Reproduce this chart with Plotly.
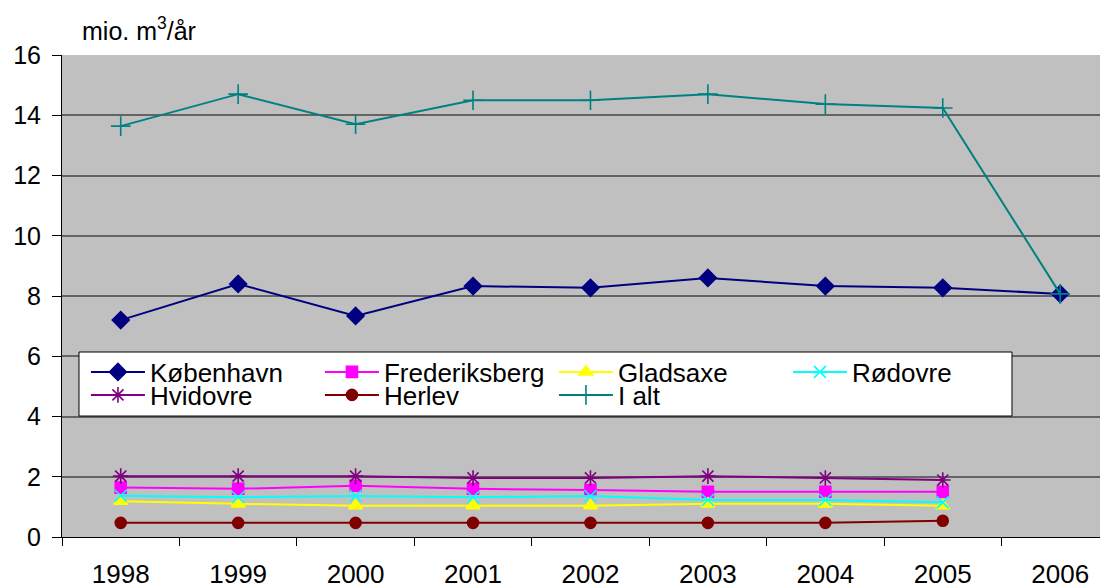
import plotly.graph_objects as go

years = ["1998", "1999", "2000", "2001", "2002", "2003", "2004", "2005", "2006"]
koebenhavn = [7.2, 8.4, 7.34, 8.33, 8.27, 8.6, 8.33, 8.27, 8.07]
frederiksberg = [1.64, 1.6, 1.7, 1.6, 1.56, 1.5, 1.5, 1.5]
gladsaxe = [1.19, 1.1, 1.04, 1.04, 1.04, 1.1, 1.1, 1.04]
roedovre = [1.37, 1.32, 1.36, 1.32, 1.36, 1.23, 1.23, 1.15]
hvidovre = [2.02, 2.02, 2.02, 1.96, 1.96, 2.02, 1.96, 1.89]
herlev = [0.47, 0.47, 0.47, 0.47, 0.47, 0.47, 0.47, 0.54]
i_alt = [13.64, 14.7, 13.7, 14.5, 14.5, 14.7, 14.37, 14.24, 8.07]

series = [
    ("København", koebenhavn, "#000080", "diamond", 13, "legend"),
    ("Frederiksberg", frederiksberg, "#FF00FF", "square", 11, "legend"),
    ("Gladsaxe", gladsaxe, "#FFFF00", "triangle-up", 12, "legend"),
    ("Rødovre", roedovre, "#00FFFF", "x-thin-open", 12, "legend"),
    ("Hvidovre", hvidovre, "#800080", "asterisk-open", 13, "legend2"),
    ("Herlev", herlev, "#800000", "circle", 11, "legend2"),
    ("I alt", i_alt, "#008080", "cross-thin-open", 14, "legend2"),
]

FONT = "Liberation Sans, Arial, sans-serif"

fig = go.Figure()
for name, vals, color, sym, size, leg in series:
    fig.add_trace(go.Scatter(
        x=years[:len(vals)], y=vals, name=name, mode="lines+markers",
        legend=leg,
        line=dict(color=color, width=2),
        marker=dict(symbol=sym, size=size, color=color,
                    line=dict(color=color, width=1.6)),
    ))

legend_common = dict(
    orientation="h", xref="paper", yref="paper",
    x=0.0229, xanchor="left", yanchor="middle",
    bgcolor="rgba(0,0,0,0)", borderwidth=0,
    entrywidth=165, entrywidthmode="pixels", itemwidth=54,
    font=dict(family=FONT, size=26, color="black"),
    traceorder="normal",
)

fig.update_layout(
    width=1100, height=580,
    margin=dict(l=54, r=0, t=47, b=51, autoexpand=False),
    paper_bgcolor="white", plot_bgcolor="#C0C0C0",
    font=dict(family=FONT, size=26, color="black"),
    showlegend=True,
    legend=dict(legend_common, y=0.3423),
    legend2=dict(legend_common, y=0.2946),
    xaxis=dict(
        type="category", categoryorder="array", categoryarray=years,
        range=[-0.5, 8.407], tickson="boundaries",
        ticks="outside", ticklen=8, tickcolor="black", tickwidth=1,
        showline=True, linecolor="black", linewidth=1,
        showgrid=False, tickfont=dict(size=26), zeroline=False,
        ticklabelstandoff=14,
    ),
    yaxis=dict(
        range=[0, 16], dtick=2, tickmode="linear",
        ticks="outside", ticklen=9, tickcolor="black",
        showline=True, linecolor="black", linewidth=1,
        showgrid=True, gridcolor="#646464", gridwidth=2,
        zeroline=False, tickfont=dict(size=25),
        ticklabelstandoff=6,
    ),
    shapes=[dict(
        type="rect", xref="paper", yref="paper",
        x0=0.01625, x1=0.9082, y0=0.2510, y1=0.3838,
        fillcolor="white", line=dict(color="black", width=1), layer="above",
    )],
    annotations=[dict(
        text="mio. m<sup>3</sup>/år", xref="paper", yref="paper",
        x=0.017, y=1.0, yshift=8, xanchor="left", yanchor="bottom",
        showarrow=False, font=dict(size=25),
    )],
)

fig.write_html("out.html")
